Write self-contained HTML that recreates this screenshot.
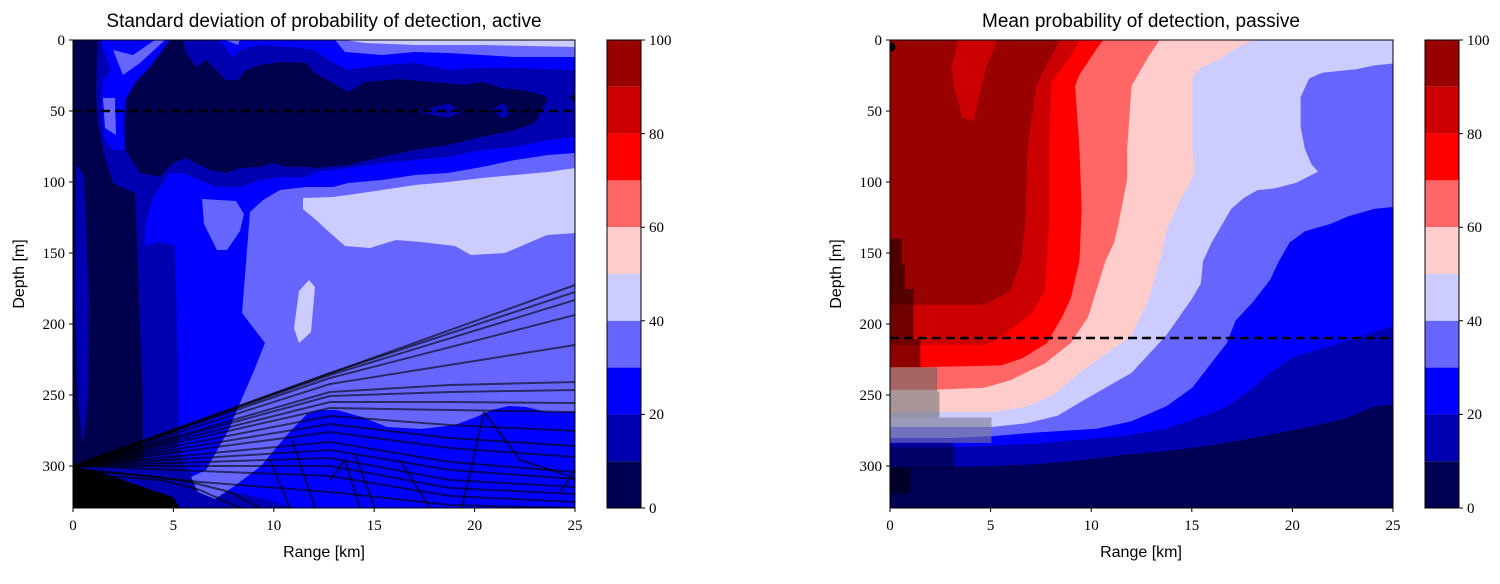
<!DOCTYPE html>
<html><head><meta charset="utf-8"><style>
html,body{margin:0;padding:0;background:#fff;}
svg{display:block;}
.t{font-family:"Liberation Sans",sans-serif;}
.s{font-family:"Liberation Serif",serif;font-size:15px;}
</style></head><body>
<svg width="1500" height="584" viewBox="0 0 1500 584" xmlns="http://www.w3.org/2000/svg">
<defs>
<clipPath id="cl"><rect x="73" y="40" width="502" height="468"/></clipPath>
<clipPath id="cr"><rect x="890" y="40" width="503" height="468"/></clipPath>
</defs>

<!-- LEFT PLOT -->
<g clip-path="url(#cl)">
<rect x="73" y="40" width="502" height="468" fill="#0000b0"/>
<polygon fill="#0000ff" points="218,40 575,40 575,70 515,68 482,68 448,70 415,63 382,65 348,70 328,60 315,50 290,47 260,45 240,50 233,58 225,47"/>
<polygon fill="#6666ff" points="335,40 575,40 575,57 515,57 482,55 448,53 415,52 382,55 345,52"/>
<polygon fill="#ccccff" points="345,40 575,40 575,47 482,45 415,45 365,43"/>
<polygon fill="#6666ff" points="225,40 240,40 238,45"/>
<polygon fill="#0000ff" points="101,40 170,40 150,67 135,83 126,97 123,123 125,150 113,150 105,140 101,107 103,80 110,70"/>
<polygon fill="#6666ff" points="113,50 133,55 155,40 165,40 140,63 123,75"/>
<polygon fill="#6666ff" points="103,98 115,98 116,135 105,128"/>
<polygon fill="#00004c" points="73,40 98,40 96,90 98,123 103,150 113,183 135,193 137,240 140,330 143,400 143,460 73,468"/>
<polygon fill="#0000b0" points="76,165 84,175 89,300 88,400 83,445 78,400 75,300"/>
<polygon fill="#00004c" points="170,40 183,40 186,53 196,67 206,60 216,70 226,80 238,80 246,70 260,65 280,62 306,63 315,73 348,92 365,82 398,79 432,82 465,85 482,82 502,88 522,90 542,95 548,98 535,123 515,130 482,137 448,145 415,150 382,157 348,165 315,168 306,167 286,167 273,163 260,167 240,168 226,173 210,170 196,163 186,158 173,163 160,177 140,173 125,150 126,100 135,83 150,67"/>
<polygon fill="#00004c" points="568,97 575,94 575,103"/>
<polygon fill="#0000b0" points="418,112 448,103 462,112 448,118"/>
<polygon fill="#0000b0" points="492,110 503,103 512,112 503,119"/>
<polygon fill="#0000ff" points="170,173 183,173 200,180 216,187 240,187 260,180 280,177 306,177 315,172 348,168 382,163 415,160 448,157 482,150 515,147 548,140 575,137 575,508 295,508 252,496 202,485 185,466 179,447 177,328 175,246 160,242 145,246 145,227 153,197"/>
<polygon fill="#6666ff" points="250,212 263,200 280,190 306,187 333,187 348,183 382,180 415,175 448,173 482,167 515,160 548,155 575,153 575,412 547,412 526,407 509,406 492,410 476,417 455,425 421,429 387,427 362,417 337,410 320,410 307,414 286,436 261,466 236,485 215,499 198,492 191,477 206,470 219,447 229,429 240,403 253,373 265,343 242,313"/>
<polygon fill="#6666ff" points="202,199 236,201 244,214 240,231 227,250 217,250 204,224"/>
<polygon fill="#ccccff" points="303,198 333,197 348,195 382,190 415,185 448,182 482,178 515,175 548,172 575,168 575,233 547,235 505,253 471,255 455,246 421,242 396,240 370,248 345,246 328,231 316,220 303,209"/>
<polygon fill="#ccccff" points="299,291 309,280 315,287 311,332 299,343 294,328"/>
<polygon fill="#000" points="73,466 100,472 140,486 173,497 180,508 73,508"/>
<g fill="none" stroke="#000" stroke-opacity="0.6" stroke-width="2" stroke-linejoin="round">
<path d="M73,466 L575,285"/>
<path d="M73,466 L330,373 L575,292"/>
<path d="M73,466 L330,375 L575,300"/>
<path d="M73,466 L330,378 L575,315"/>
<path d="M73,466 L330,384 L575,345"/>
<path d="M73,466 L330,392 L450,385 L575,382"/>
<path d="M73,466 L330,396 L450,392 L575,390"/>
<path d="M73,466 L330,402 L450,402 L575,403"/>
<path d="M73,466 L330,408 L450,410 L575,412"/>
<path d="M73,466 L330,416 L450,425 L575,431"/>
<path d="M73,466 L330,424 L450,438 L575,446"/>
<path d="M73,466 L330,432 L450,448 L575,457"/>
<path d="M73,466 L330,442 L450,462 L575,472"/>
<path d="M73,466 L330,450 L450,470 L575,479"/>
<path d="M73,466 L330,458 L450,480 L575,487"/>
<path d="M73,466 L330,466 L450,488 L575,494"/>
<path d="M73,466 L330,476 L450,496 L575,502"/>
<path d="M90,470 L200,482 L330,492 L450,505 L575,508"/>
<path d="M100,472 L150,476 L190,482 L230,492 L260,508"/>
<path d="M110,476 L160,480 L200,490 L240,508"/>
<path d="M270,460 L290,508 M292,440 L315,508 M355,455 L375,508 M400,460 L430,508 M484,412 L462,508 M484,412 L520,460 L575,478 M560,492 L575,470 M330,480 L345,460 L360,508"/>
</g>
<line x1="73" y1="111" x2="575" y2="111" stroke="#000" stroke-width="2.5" stroke-dasharray="9 5"/>
</g>
<rect x="73" y="40" width="502" height="468" fill="none" stroke="#000" stroke-width="1"/>

<!-- RIGHT PLOT -->
<g clip-path="url(#cr)">
<g transform="translate(890,40) scale(0.4336,0.3727) translate(-163,-107)">
<rect x="163" y="107" width="1160" height="1255" fill="#000055"/>
<polygon fill="#0000b0" points="1323,1085 1280,1090 1220,1120 1150,1140 1000,1175 900,1195 800,1210 700,1220 600,1235 500,1245 400,1250 300,1252 163,1252 163,107 1323,107"/>
<polygon fill="#0000ff" points="1323,875 1280,890 1200,920 1090,960 1040,1000 990,1050 940,1090 900,1110 800,1150 700,1170 600,1180 500,1190 400,1195 300,1200 163,1200 163,107 1323,107"/>
<polygon fill="#6666ff" points="1323,555 1280,560 1220,580 1180,600 1120,620 1085,650 1060,700 1040,750 1000,810 960,860 940,920 900,980 860,1040 800,1090 720,1130 640,1150 500,1160 400,1170 300,1175 163,1175 163,107 1323,107"/>
<polygon fill="#ccccff" points="1323,170 1280,175 1240,185 1200,190 1160,195 1130,210 1110,260 1110,340 1120,400 1135,440 1150,460 1100,490 1050,505 1010,510 980,530 950,560 930,600 905,650 885,700 880,760 860,800 830,850 800,900 760,950 720,1000 660,1040 600,1080 550,1115 480,1135 400,1145 163,1145 163,107 1323,107"/>
<polygon fill="#ffcccc" points="1000,107 960,130 920,160 880,180 860,210 860,400 865,460 850,500 830,540 800,620 790,680 760,800 720,900 660,950 600,1000 540,1060 480,1090 400,1105 163,1105 163,107"/>
<polygon fill="#ff6666" points="785,107 760,150 740,190 720,230 710,400 710,480 690,600 680,650 660,700 620,850 580,920 520,975 440,1020 380,1040 270,1045 163,1045 163,107"/>
<polygon fill="#ff0000" points="655,107 640,130 600,200 590,230 600,400 605,560 600,700 580,800 560,850 525,920 470,960 420,980 230,985 163,985 163,107"/>
<polygon fill="#cc0000" points="600,107 580,150 535,220 530,400 530,600 520,780 490,840 445,880 415,910 380,925 163,925 163,107"/>
<polygon fill="#990000" points="163,107 555,107 530,160 500,230 480,400 475,600 465,700 440,780 400,805 380,817 163,817"/>
<polygon fill="#cc0000" points="320,107 410,107 385,180 355,325 330,315 310,230 305,180"/>
<g>
<rect x="163" y="640" width="27" height="70" fill="#000" fill-opacity="0.5"/>
<rect x="163" y="710" width="34" height="65" fill="#000" fill-opacity="0.5"/>
<rect x="163" y="775" width="54" height="135" fill="#000" fill-opacity="0.45"/>
<rect x="163" y="910" width="70" height="75" fill="#000" fill-opacity="0.45"/>
<rect x="163" y="985" width="109" height="65" fill="#606060" fill-opacity="0.55"/>
<rect x="163" y="1050" width="114" height="70" fill="#707070" fill-opacity="0.6"/>
<rect x="163" y="1120" width="234" height="68" fill="#7a7a90" fill-opacity="0.6"/>
<rect x="163" y="1188" width="147" height="67" fill="#000" fill-opacity="0.4"/>
<rect x="163" y="1255" width="47" height="70" fill="#000" fill-opacity="0.5"/>
</g>
</g>
<line x1="890" y1="338" x2="1393" y2="338" stroke="#000" stroke-width="2.5" stroke-dasharray="9 5"/>
<circle cx="891" cy="47" r="4.5" fill="#000"/>
</g>
<rect x="890" y="40" width="503" height="468" fill="none" stroke="#000" stroke-width="1"/>

<g id="cb1">
<rect x="607" y="40" width="34" height="46.8" fill="#990000"/>
<rect x="607" y="86.8" width="34" height="46.8" fill="#cc0000"/>
<rect x="607" y="133.6" width="34" height="46.8" fill="#ff0000"/>
<rect x="607" y="180.4" width="34" height="46.8" fill="#ff6666"/>
<rect x="607" y="227.2" width="34" height="46.8" fill="#ffcccc"/>
<rect x="607" y="274" width="34" height="46.8" fill="#ccccff"/>
<rect x="607" y="320.8" width="34" height="46.8" fill="#6666ff"/>
<rect x="607" y="367.6" width="34" height="46.8" fill="#0000ff"/>
<rect x="607" y="414.4" width="34" height="46.8" fill="#0000b0"/>
<rect x="607" y="461.2" width="34" height="46.8" fill="#000055"/>
<rect x="607" y="40" width="34" height="468" fill="none" stroke="#000"/>
</g>
<use href="#cb1" x="818" y="0"/>

<g stroke="#000" stroke-width="1">
<path d="M73,508v4M173.4,508v4M273.8,508v4M374.2,508v4M474.6,508v4M575,508v4
M73,40h-4M73,111h-4M73,182h-4M73,253h-4M73,324h-4M73,395h-4M73,466h-4
M890,508v4M990.6,508v4M1091.2,508v4M1191.8,508v4M1292.4,508v4M1393,508v4
M890,40h-4M890,111h-4M890,182h-4M890,253h-4M890,324h-4M890,395h-4M890,466h-4
M641,508h4M641,414.4h4M641,320.8h4M641,227.2h4M641,133.6h4M641,40h4
M1459,508h4M1459,414.4h4M1459,320.8h4M1459,227.2h4M1459,133.6h4M1459,40h4"/>
</g>
<g class="s" text-anchor="middle">
<text x="73" y="530">0</text><text x="173.4" y="530">5</text><text x="273.8" y="530">10</text><text x="374.2" y="530">15</text><text x="474.6" y="530">20</text><text x="575" y="530">25</text>
<text x="890" y="530">0</text><text x="990.6" y="530">5</text><text x="1091.2" y="530">10</text><text x="1191.8" y="530">15</text><text x="1292.4" y="530">20</text><text x="1393" y="530">25</text>
</g>
<g class="s" text-anchor="end">
<text x="65" y="45">0</text><text x="65" y="116">50</text><text x="65" y="187">100</text><text x="65" y="258">150</text><text x="65" y="329">200</text><text x="65" y="400">250</text><text x="65" y="471">300</text>
<text x="882" y="45">0</text><text x="882" y="116">50</text><text x="882" y="187">100</text><text x="882" y="258">150</text><text x="882" y="329">200</text><text x="882" y="400">250</text><text x="882" y="471">300</text>
</g>
<g class="s">
<text x="649" y="513">0</text><text x="649" y="419">20</text><text x="649" y="326">40</text><text x="649" y="232">60</text><text x="649" y="139">80</text><text x="649" y="45">100</text>
<text x="1467" y="513">0</text><text x="1467" y="419">20</text><text x="1467" y="326">40</text><text x="1467" y="232">60</text><text x="1467" y="139">80</text><text x="1467" y="45">100</text>
</g>
<g class="t" text-anchor="middle">
<text x="324" y="27" font-size="19">Standard deviation of probability of detection, active</text>
<text x="1141" y="27" font-size="19">Mean probability of detection, passive</text>
<text x="324" y="557" font-size="16">Range [km]</text>
<text x="1141" y="557" font-size="16">Range [km]</text>
<text transform="translate(24,274) rotate(-90)" font-size="16">Depth [m]</text>
<text transform="translate(841,274) rotate(-90)" font-size="16">Depth [m]</text>
</g>
</svg>
</body></html>
